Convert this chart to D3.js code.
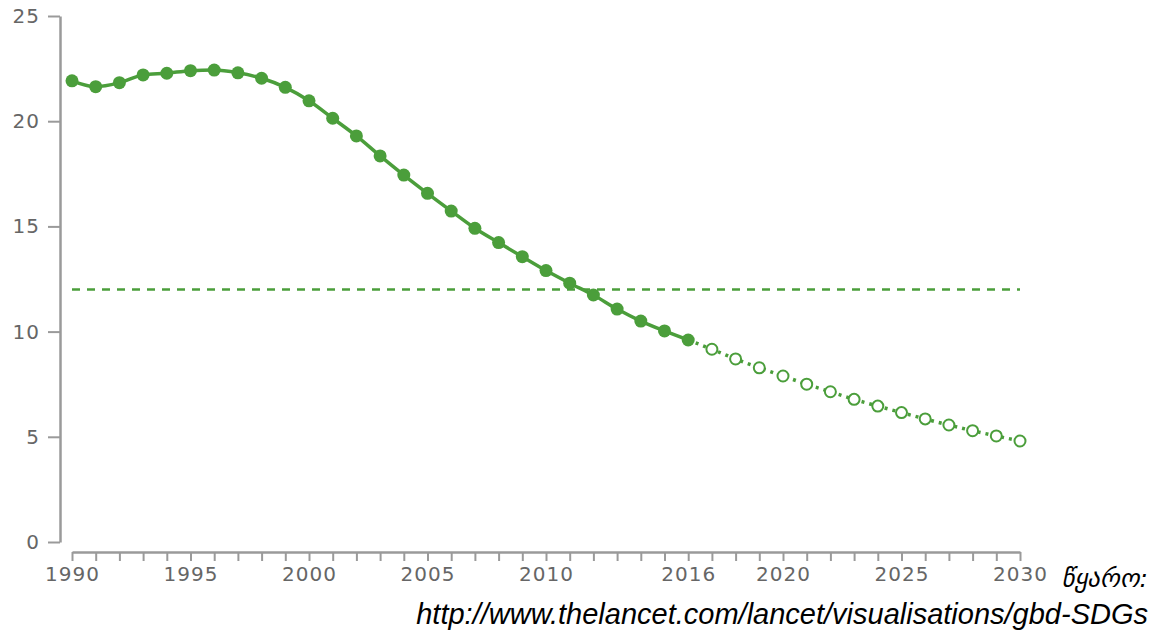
<!DOCTYPE html>
<html>
<head>
<meta charset="utf-8">
<script src="https://cdn.jsdelivr.net/npm/d3@7"></script>
<style>
  body { margin: 0; background: #fff; }
  svg { display: block; }
</style>
</head>
<body>
<div id="chart"></div>
<script>
// estimated (observed) values, 1990-2016
const pastYears = d3.range(1990, 2017);
const pastValues = [21.92, 21.64, 21.83, 22.2, 22.28, 22.4, 22.43, 22.3, 22.04, 21.61,
    20.97, 20.14, 19.3, 18.35, 17.44, 16.57, 15.73, 14.91, 14.23, 13.56,
    12.9, 12.3, 11.74, 11.07, 10.5, 10.03, 9.6];

// projected values, 2017-2030
const projYears = d3.range(2017, 2031);
const projValues = [9.16, 8.7, 8.28, 7.89, 7.5, 7.14, 6.78, 6.46, 6.15, 5.85, 5.56, 5.29, 5.04, 4.8];

const targetValue = 12;
const xTickLabels = [1990, 1995, 2000, 2005, 2010, 2016, 2020, 2025, 2030];
const yTicks = [0, 5, 10, 15, 20, 25];

const green = "#4b9e3b";
const axisGrey = "#9a9a9a";

const svg = d3.select("#chart")
    .append("svg")
    .attr("width", 1167)
    .attr("height", 633);

const x = d3.scaleLinear()
    .domain([1990, 2030])
    .range([72, 1020]);

const y = d3.scaleLinear()
    .domain([0, 25])
    .range([542, 16]);

// y axis
const yAxis = svg.append("g")
    .attr("transform", "translate(60,0)")
    .call(d3.axisLeft(y).tickValues(yTicks).tickSize(12).tickSizeOuter(0).tickPadding(8));

// x axis, a tick per year but labels only on some
const xAxis = svg.append("g")
    .attr("transform", "translate(0,552)")
    .call(d3.axisBottom(x)
        .tickValues(d3.range(1990, 2031))
        .tickSize(9)
        .tickSizeOuter(0)
        .tickPadding(6)
        .tickFormat(d => xTickLabels.includes(d) ? d : ""));

[yAxis, xAxis].forEach(g => {
    g.select(".domain").attr("stroke", axisGrey).attr("stroke-width", 2.5);
    g.selectAll(".tick line").attr("stroke", axisGrey).attr("stroke-width", 2);
    g.selectAll(".tick text")
        .attr("fill", "#666")
        .style("font-family", "'DejaVu Sans', Verdana, sans-serif")
        .style("font-size", "20px")
        .style("letter-spacing", "1px");
});

// target line
svg.append("line")
    .attr("x1", x(1990))
    .attr("x2", x(2030))
    .attr("y1", y(targetValue))
    .attr("y2", y(targetValue))
    .attr("stroke", green)
    .attr("stroke-width", 2.5)
    .attr("stroke-dasharray", "8,7");

const past = pastYears.map((d, i) => ({ year: d, value: pastValues[i] }));
const proj = projYears.map((d, i) => ({ year: d, value: projValues[i] }));

const line = d3.line()
    .x(d => x(d.year))
    .y(d => y(d.value))
    .curve(d3.curveMonotoneX);

// projection line starts from last observed point
svg.append("path")
    .datum([past[past.length - 1]].concat(proj))
    .attr("fill", "none")
    .attr("stroke", green)
    .attr("stroke-width", 3.5)
    .attr("stroke-dasharray", "3,5")
    .attr("d", line);

svg.append("path")
    .datum(past)
    .attr("fill", "none")
    .attr("stroke", green)
    .attr("stroke-width", 3.5)
    .attr("d", line);

svg.append("g")
    .selectAll("circle")
    .data(past)
    .join("circle")
    .attr("cx", d => x(d.year))
    .attr("cy", d => y(d.value))
    .attr("r", 6.5)
    .attr("fill", green);

svg.append("g")
    .selectAll("circle")
    .data(proj)
    .join("circle")
    .attr("cx", d => x(d.year))
    .attr("cy", d => y(d.value))
    .attr("r", 5.5)
    .attr("fill", "#fff")
    .attr("stroke", green)
    .attr("stroke-width", 2);

// source note
svg.append("text")
    .attr("x", 1148)
    .attr("y", 587)
    .attr("text-anchor", "end")
    .style("font-family", "'DejaVu Sans', sans-serif")
    .style("font-style", "italic")
    .style("font-size", "25px")
    .attr("fill", "#000")
    .text("წყარო:");

svg.append("text")
    .attr("x", 1148)
    .attr("y", 624)
    .attr("text-anchor", "end")
    .style("font-family", "'Liberation Sans', Arial, sans-serif")
    .style("font-style", "italic")
    .style("font-size", "29px")
    .attr("fill", "#000")
    .text("http://www.thelancet.com/lancet/visualisations/gbd-SDGs");
</script>
</body>
</html>
